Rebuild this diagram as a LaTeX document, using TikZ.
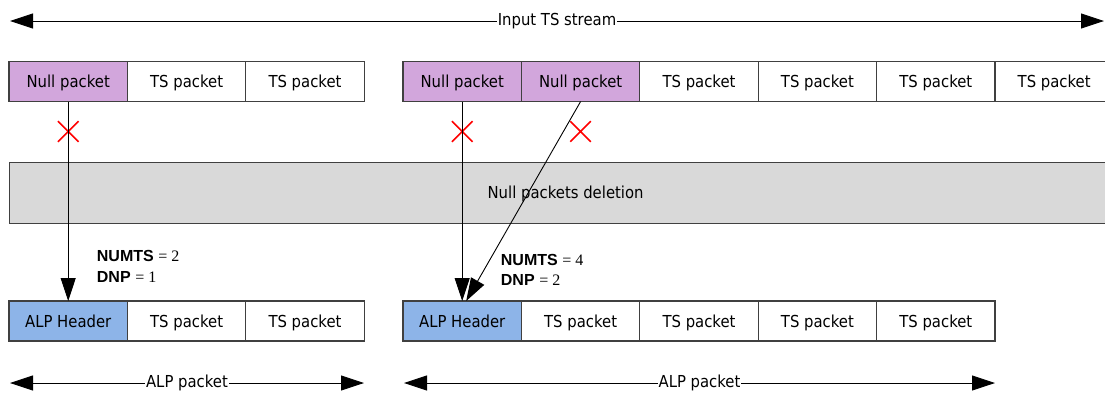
\documentclass[tikz,border=0pt]{standalone}
\usepackage{fontspec}
\setmainfont{DejaVu Sans}[FakeStretch=0.9]
\newfontfamily\fieldsans{Liberation Sans}
\newfontfamily\fieldserif{Liberation Serif}
\usetikzlibrary{positioning,arrows.meta,shapes.misc}
\definecolor{nullfill}{RGB}{210,166,220}
\definecolor{alpfill}{RGB}{141,180,232}
\definecolor{bandfill}{RGB}{217,217,217}
\definecolor{boxline}{RGB}{64,64,64}
\begin{document}
\begin{tikzpicture}[x=1pt, y=-1pt,
    > = {Triangle[length=23pt, width=15pt]},
    font=\fontsize{16.5}{20}\selectfont,
    pkt/.style={draw=boxline, line width=1.2pt, rectangle, minimum width=118.4pt,
        minimum height=40pt, inner sep=0pt, outer sep=0pt, text height=12pt, text depth=0pt},
    cross/.style={cross out, draw=red, line width=1.6pt, minimum size=19pt, inner sep=0pt},
    field/.style={anchor=base west, inner sep=0pt, font=\fontsize{16}{20}\selectfont},
    conn/.style={->, line width=0.9pt}]
    \useasboundingbox (0,0) rectangle (1105,392);
    \clip (0,0) rectangle (1105,392);

    % input stream
    \node[pkt, fill=nullfill, anchor=north west] (Null1) at (9,61.5) {Null packet};
    \node[pkt, right=0pt of Null1] (InTs1) {TS packet};
    \node[pkt, right=0pt of InTs1] (InTs2) {TS packet};
    \node[pkt, fill=nullfill, anchor=north west] (Null2) at (403,61.5) {Null packet};
    \node[pkt, fill=nullfill, right=0pt of Null2] (Null3) {Null packet};
    \node[pkt, right=0pt of Null3] (InTs3) {TS packet};
    \node[pkt, right=0pt of InTs3] (InTs4) {TS packet};
    \node[pkt, right=0pt of InTs4] (InTs5) {TS packet};
    \node[pkt, right=0pt of InTs5] (InTs6) {TS packet};

    \node[draw=boxline, fill=bandfill, line width=1.2pt, minimum width=1112pt,
        minimum height=61.5pt, text height=12pt, text depth=0pt,
        anchor=north west] (Band) at (9,161.5) {Null packets deletion};

    % ALP packets
    \node[pkt, fill=alpfill, anchor=north west] (Hdr1) at (9,301) {ALP Header};
    \node[pkt, right=0pt of Hdr1] (OutTs1) {TS packet};
    \node[pkt, right=0pt of OutTs1] (OutTs2) {TS packet};
    \node[pkt, fill=alpfill, anchor=north west] (Hdr2) at (403,301) {ALP Header};
    \node[pkt, right=0pt of Hdr2] (OutTs3) {TS packet};
    \node[pkt, right=0pt of OutTs3] (OutTs4) {TS packet};
    \node[pkt, right=0pt of OutTs4] (OutTs5) {TS packet};
    \node[pkt, right=0pt of OutTs5] (OutTs6) {TS packet};

    \node[cross] (Cross1) at ([yshift=-30pt]Null1.south) {};
    \node[cross] (Cross2) at ([yshift=-30pt]Null2.south) {};
    \node[cross] (Cross3) at ([yshift=-30pt]Null3.south) {};

    \draw[conn] (Null1) -- (Hdr1);
    \draw[conn] (Null2) -- (Hdr2);
    \draw[conn] (Null3.south) -- ([xshift=4pt]Hdr2.north);

    \node[field] (Numts1) at (96.7,261.7) {{\fieldsans\bfseries NUMTS} {\fieldserif = 2}};
    \node[field] (Dnp1) at (96.7,282.7) {{\fieldsans\bfseries DNP} {\fieldserif = 1}};
    \node[field] (Numts2) at (500.7,265) {{\fieldsans\bfseries NUMTS} {\fieldserif = 4}};
    \node[field] (Dnp2) at (500.7,285.7) {{\fieldsans\bfseries DNP} {\fieldserif = 2}};

    % span arrows
    \coordinate (StreamL) at (10,21);
    \coordinate (StreamR) at (1104,21);
    \coordinate (AlpL1) at (10,383);
    \coordinate (AlpR1) at (364,383);
    \coordinate (AlpL2) at (404,383);
    \coordinate (AlpR2) at (995,383);
    \draw[<->, line width=0.9pt] (StreamL) -- node[fill=white, inner xsep=1pt] (StreamLbl) {Input TS stream} (StreamR);
    \draw[<->, line width=0.9pt] (AlpL1) -- node[fill=white, inner xsep=1pt] (AlpLbl1) {ALP packet} (AlpR1);
    \draw[<->, line width=0.9pt] (AlpL2) -- node[fill=white, inner xsep=1pt] (AlpLbl2) {ALP packet} (AlpR2);
\end{tikzpicture}
\end{document}
